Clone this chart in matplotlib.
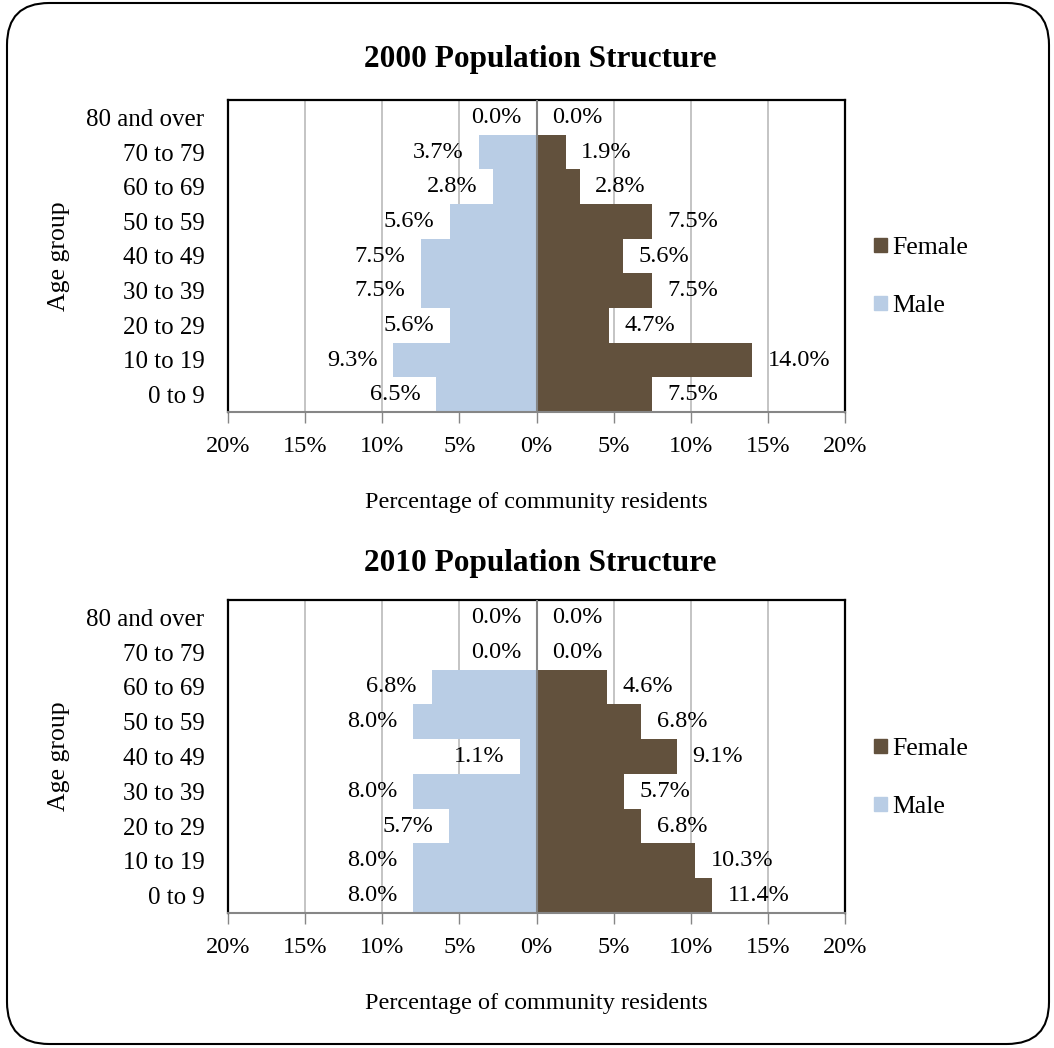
import matplotlib
matplotlib.use("Agg")
import matplotlib.pyplot as plt
from matplotlib.patches import FancyBboxPatch, Patch
from matplotlib.ticker import FixedLocator, FuncFormatter

plt.rcParams['font.family'] = ['Liberation Serif', 'DejaVu Serif']

age_groups = ["0 to 9", "10 to 19", "20 to 29", "30 to 39", "40 to 49",
              "50 to 59", "60 to 69", "70 to 79", "80 and over"]
male_2000 = [6.5, 9.3, 5.6, 7.5, 7.5, 5.6, 2.8, 3.7, 0.0]
female_2000 = [7.5, 14.0, 4.7, 7.5, 5.6, 7.5, 2.8, 1.9, 0.0]
male_2010 = [8.0, 8.0, 5.7, 8.0, 1.1, 8.0, 6.8, 0.0, 0.0]
female_2010 = [11.4, 10.3, 6.8, 5.7, 9.1, 6.8, 4.6, 0.0, 0.0]
x_ticks = [-20, -15, -10, -5, 0, 5, 10, 15, 20]
titles = ["2000 Population Structure", "2010 Population Structure"]

FEMALE = "#62513D"
MALE = "#B9CDE5"
GRID = "#BFBFBF"
AXIS = "#868686"
FS = 17.5

W, H = 1054, 1048
fig = plt.figure(figsize=(W / 100, H / 100), dpi=100)

# rounded outer border
border = FancyBboxPatch((7 / W, 4 / H), (1049 - 7) / W, (1045 - 4) / H,
                        boxstyle="round,pad=0,rounding_size=0.04",
                        transform=fig.transFigure, facecolor="white",
                        edgecolor="black", linewidth=1.5, zorder=-10)
fig.patches.append(border)


def px_axes(top, bottom, left=228, right=845):
    return [left / W, 1 - bottom / H, (right - left) / W, (bottom - top) / H]


def draw(ax, male, female, title, title_y):
    y = list(range(len(age_groups)))
    male_neg = [-v for v in male]
    ax.barh(y, male_neg, height=1.0, color=MALE, zorder=2, label="Male")
    ax.barh(y, female, height=1.0, color=FEMALE, zorder=2, label="Female")
    ax.set_xlim(-20, 20)
    ax.set_ylim(-0.5, len(age_groups) - 0.5)
    ax.xaxis.set_major_locator(FixedLocator(x_ticks))
    ax.xaxis.set_major_formatter(FuncFormatter(lambda v, p: f"{abs(v):.0f}%"))
    ax.set_yticks(y)
    ax.set_yticklabels(age_groups)
    ax.tick_params(axis='y', length=0, pad=17, labelsize=18)
    ax.tick_params(axis='x', length=8, width=1, color=AXIS, pad=9, labelsize=FS)
    ax.grid(axis='x', color=GRID, linewidth=1.3, zorder=0)
    ax.set_axisbelow(True)
    ax.axvline(0, color=AXIS, linewidth=1.5, zorder=3)
    for s in ['top', 'left', 'right']:
        ax.spines[s].set_color("black")
        ax.spines[s].set_linewidth(1.6)
    ax.spines['bottom'].set_color(AXIS)
    ax.spines['bottom'].set_linewidth(1.5)
    ax.set_xlabel("Percentage of community residents", fontsize=17.5)
    ax.xaxis.set_label_coords(0.5, -0.255)
    ax.set_ylabel("Age group", fontsize=18.5)
    ax.yaxis.set_label_coords(-0.256, 0.5)
    off = 1.0
    for yi, mv, fv in zip(y, male, female):
        ax.text(-mv - off, yi, f"{mv:.1f}%", ha='right', va='center',
                fontsize=FS, zorder=4)
        ax.text(fv + off, yi, f"{fv:.1f}%", ha='left', va='center',
                fontsize=FS, zorder=4)
    fig.text(540 / W, 1 - title_y / H, title, ha='center', va='center',
             fontsize=22.5, fontweight='bold')


ax1 = fig.add_axes(px_axes(100, 412))
draw(ax1, male_2000, female_2000, titles[0], 60)
ax2 = fig.add_axes(px_axes(600, 913))
draw(ax2, male_2010, female_2010, titles[1], 563)

for ax, ly in [(ax1, 277), (ax2, 778)]:
    handles = [Patch(color=FEMALE, label="Female"), Patch(color=MALE, label="Male")]
    fig.legend(handles=handles, loc='center left',
               bbox_to_anchor=(856 / W, 1 - ly / H), frameon=False,
               fontsize=18.5, handlelength=0.5, handleheight=0.5,
               handletextpad=0.22, labelspacing=1.4, borderpad=0.2)

fig.savefig("out.png", dpi=100, facecolor="white")
